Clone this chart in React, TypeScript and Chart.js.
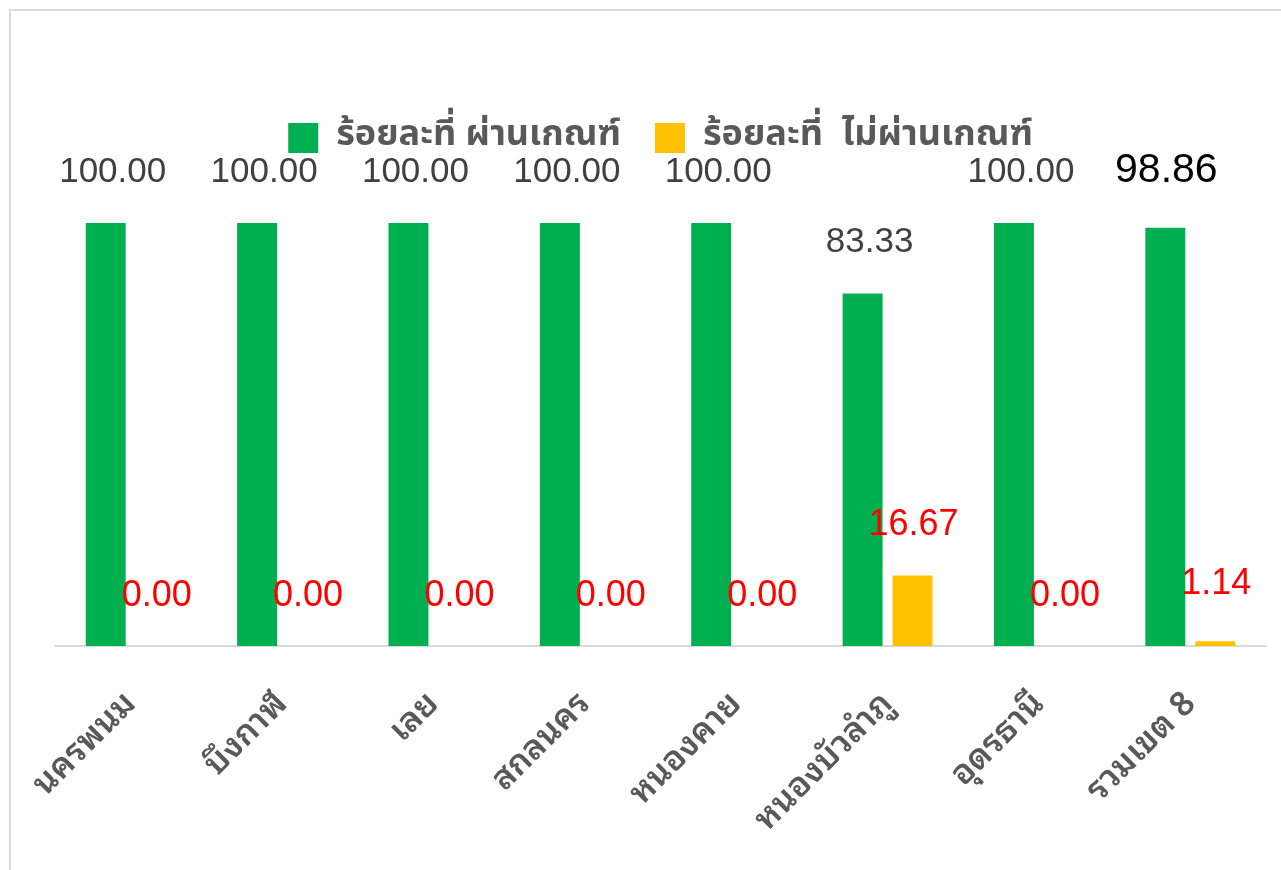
import React, { useEffect, useRef } from "react";
import { Chart, registerables } from "chart.js";

Chart.register(...registerables);

const categories = ["นครพนม", "บึงกาฬ", "เลย", "สกลนคร", "หนองคาย", "หนองบัวลำภู", "อุดรธานี", "รวมเขต 8"];
const passLabel = "ร้อยละที่ ผ่านเกณฑ์";
const failLabel = "ร้อยละที่  ไม่ผ่านเกณฑ์";
const passValues = [100.0, 100.0, 100.0, 100.0, 100.0, 83.33, 100.0, 98.86];
const failValues = [0.0, 0.0, 0.0, 0.0, 0.0, 16.67, 0.0, 1.14];

const THAI = "'Noto Sans Thai Looped', 'Noto Sans Thai', 'Noto Sans', 'DejaVu Sans', sans-serif";
const THAI_LEGEND = "'Noto Sans Thai', Tahoma, 'Noto Sans', 'DejaVu Sans', sans-serif";
const NUM = "'Liberation Sans', Arial, sans-serif";

const valueLabels = {
  id: "valueLabels",
  afterDatasetsDraw(chart: any) {
    const ctx = chart.ctx;
    ctx.save();
    ctx.textAlign = "center";
    ctx.textBaseline = "middle";
    chart.data.datasets.forEach((ds: any, di: number) => {
      const meta = chart.getDatasetMeta(di);
      meta.data.forEach((bar: any, i: number) => {
        const v = ds.data[i] as number;
        const txt = v.toFixed(2);
        const last = i === ds.data.length - 1;
        if (di === 0) {
          ctx.fillStyle = last ? "#000000" : "#404040";
          ctx.font = (last ? "41px " : "35px ") + NUM;
          ctx.fillText(txt, bar.x + (last ? 1 : 7), bar.y - (last ? 57 : 51));
        } else {
          ctx.fillStyle = "#FF0000";
          ctx.font = "36px " + NUM;
          ctx.fillText(txt, bar.x + 1, bar.y - (last ? 57 : 50));
        }
      });
    });
    ctx.restore();
  },
};

const legendSpacer = {
  id: "legendSpacer",
  beforeInit(chart: any) {
    const orig = chart.legend.fit;
    chart.legend.fit = function () {
      orig.bind(this)();
      this.height += 57;
    };
  },
};

export default function App() {
  const ref = useRef<HTMLCanvasElement | null>(null);
  useEffect(() => {
    if (!ref.current) return;
    const chart = new Chart(ref.current, {
      type: "bar",
      data: {
        labels: categories,
        datasets: [
          {
            label: passLabel,
            data: passValues,
            backgroundColor: "#00B050",
            categoryPercentage: 0.66,
            barPercentage: 0.8,
          },
          {
            label: failLabel,
            data: failValues,
            backgroundColor: "#FFC000",
            categoryPercentage: 0.66,
            barPercentage: 0.8,
          },
        ],
      },
      options: {
        animation: false,
        responsive: false,
        maintainAspectRatio: false,
        layout: { padding: { top: 75, left: 44, right: 15, bottom: 24 } },
        plugins: {
          legend: {
            display: true,
            position: "top",
            labels: {
              boxWidth: 30,
              boxHeight: 30,
              padding: 34,
              color: "#595959",
              font: { family: THAI_LEGEND, size: 36, weight: "bold" },
            },
          },
          tooltip: { enabled: false },
        },
        scales: {
          x: {
            grid: { display: false, drawTicks: false },
            border: { display: true, color: "#D9D9D9", width: 2 },
            ticks: {
              autoSkip: false,
              maxRotation: 45,
              minRotation: 45,
              padding: 38,
              color: "#595959",
              font: { family: THAI, size: 34, weight: "600" },
            },
            afterFit: (scale: any) => {
              scale.height = 200;
              scale.paddingLeft = 0;
              scale.paddingRight = 0;
            },
          },
          y: {
            display: false,
            min: 0,
            max: 100,
          },
        },
      },
      plugins: [valueLabels, legendSpacer],
    });
    return () => chart.destroy();
  }, []);
  return (
    <div
      style={{
        position: "absolute",
        left: 9,
        top: 9,
        width: 1270,
        height: 859,
        borderLeft: "2px solid #D9D9D9",
        borderTop: "2px solid #D9D9D9",
        background: "#fff",
        overflow: "hidden",
      }}
    >
      <canvas ref={ref} width={1270} height={859} style={{ display: "block", width: 1270, height: 859 }} />
    </div>
  );
}
